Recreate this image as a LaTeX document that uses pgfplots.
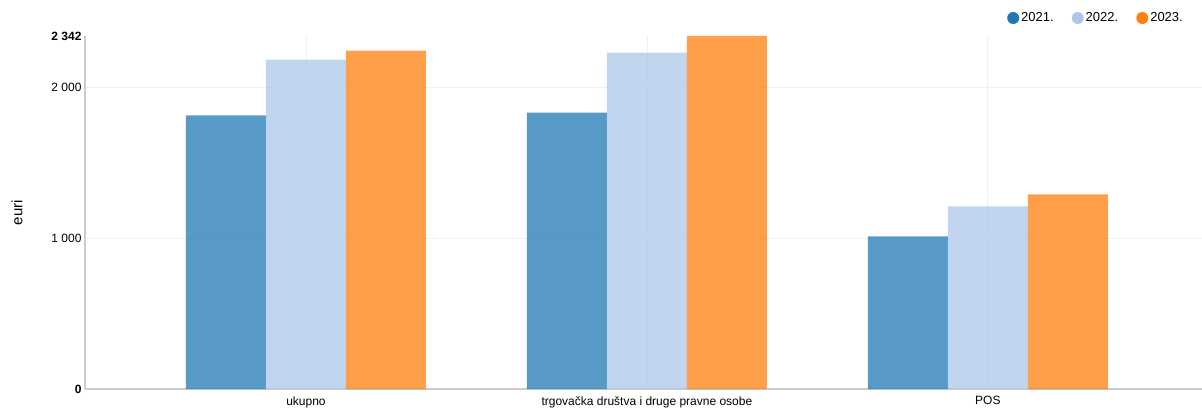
\documentclass[border=0pt]{standalone}
\usepackage{fontspec}
\setmainfont{Liberation Sans}
\usepackage{pgfplots}
\pgfplotsset{compat=1.18}

\definecolor{c21}{HTML}{1F77B4}
\definecolor{c22}{HTML}{AEC7E8}
\definecolor{c23}{HTML}{FF7F0E}
\definecolor{axgray}{HTML}{CCCCCC}
\definecolor{gridgray}{HTML}{F0F0F0}

\begin{document}
\begin{tikzpicture}[x=1pt,y=1pt]
\begin{axis}[
    at={(0,0)}, anchor=south west,
    scale only axis,
    width=1117pt, height=353pt,
    ybar=0pt,
    bar width=0.2346,
    xmin=-0.648, xmax=2.628,
    ymin=0, ymax=2342,
    axis lines=left,
    axis line style={axgray, line width=1.2pt, -},
    major tick length=0pt,
    xtick={0,1,2},
    xticklabels={ukupno, trgovačka društva i druge pravne osobe, POS},
    ytick={0,1000,2000},
    yticklabels={\textbf{0}, 1 000, 2 000},
    extra y ticks={2342},
    extra y tick labels={\textbf{2 342}},
    extra y tick style={grid=none},
    grid=major,
    grid style={gridgray, line width=0.8pt},
    tick label style={font=\fontsize{12}{14}\selectfont},
    xticklabel style={yshift=-4pt},
    ylabel={euri},
    ylabel style={at={(axis description cs:-0.0609,0.5)}, anchor=center, font=\fontsize{15}{17}\selectfont},
    legend columns=3,
    legend style={at={(1103pt,371pt)}, anchor=east, draw=none, fill=none,
        font=\fontsize{13}{15}\selectfont,
        /tikz/every even column/.append style={column sep=16pt}},
    legend image code/.code={\fill[#1, fill opacity=1] (4pt,0pt) circle (6pt);},
    clip=false,
]
\addplot[fill=c21, fill opacity=0.75, draw=none] coordinates {(0,1815) (1,1834) (2,1013)};
\addplot[fill=c22, fill opacity=0.75, draw=none] coordinates {(0,2185) (1,2232) (2,1212)};
\addplot[fill=c23, fill opacity=0.75, draw=none] coordinates {(0,2245) (1,2342) (2,1291)};
\legend{2021., 2022., 2023.}
\end{axis}
\pgfresetboundingbox
\useasboundingbox (-85pt,-19pt) rectangle (1117pt,389pt);
\end{tikzpicture}
\end{document}
